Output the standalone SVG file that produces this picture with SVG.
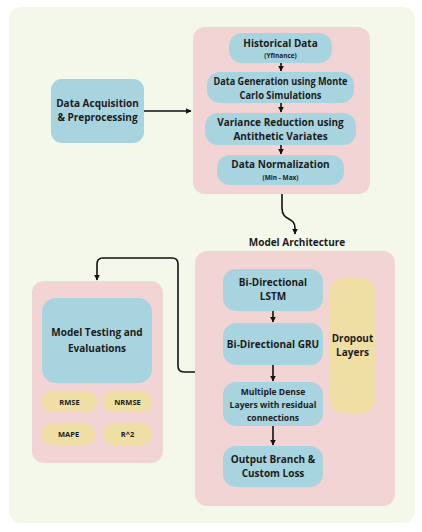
<svg xmlns="http://www.w3.org/2000/svg" width="422" height="532" viewBox="0 0 422 532">
<defs>
<style>
.bg{fill:#f3f8ea}
.pink{fill:#f2d4d4}
.blue{fill:#a8d4df}
.yel{fill:#efdfa5}
text{font-family:"Open Sans","DejaVu Sans",sans-serif;font-weight:700;fill:#1c1c1c;text-anchor:middle}
.t{font-size:10px}
.s{font-size:6.5px}
.e{font-size:7.5px}
.m{font-size:8.6px}
.c{fill:none;stroke:#111;stroke-width:1.6}
</style>
<marker id="ah" viewBox="0 0 10 10" refX="9" refY="5" markerWidth="3.6" markerHeight="3.6" orient="auto-start-reverse" markerUnits="strokeWidth">
<path d="M0,0 L10,5 L0,10 z" fill="#111"/>
</marker>
</defs>
<rect class="bg" x="9" y="7" width="406" height="516" rx="12"/>
<g id="pipeline-box"><rect class="pink" x="193" y="27" width="177" height="167" rx="12"/></g>
<g id="arch-box"><rect class="pink" x="195" y="251" width="200" height="255" rx="12"/></g>
<g id="eval-box"><rect class="pink" x="32" y="281" width="131" height="182" rx="12"/></g>
<g id="acquisition"><rect class="blue" x="51" y="79" width="93" height="64" rx="11"/>
<text class="t" x="97.5" y="107">Data Acquisition</text><text class="t" x="97.5" y="121">&amp; Preprocessing</text></g>
<g id="historical"><rect class="blue" x="229" y="33" width="103" height="30" rx="13"/>
<text class="t" x="280.5" y="47">Historical Data</text><text class="s" x="280.5" y="58">(Yfinance)</text></g>
<g id="generation"><rect class="blue" x="207" y="72" width="147" height="31" rx="13"/>
<text class="t" x="280.5" y="85" textLength="134" lengthAdjust="spacingAndGlyphs">Data Generation using Monte</text><text class="t" x="280.5" y="98.5" textLength="82" lengthAdjust="spacingAndGlyphs">Carlo Simulations</text></g>
<g id="variance"><rect class="blue" x="205" y="113" width="151" height="32" rx="13"/>
<text class="t" x="280.5" y="126">Variance Reduction using</text><text class="t" x="280.5" y="140">Antithetic Variates</text></g>
<g id="normalization"><rect class="blue" x="217" y="155" width="127" height="30" rx="13"/>
<text class="t" x="280.5" y="168">Data Normalization</text><text class="s" x="280.5" y="180">(Min - Max)</text></g>
<g id="model-architecture-label"><text class="t" x="297" y="246">Model Architecture</text></g>
<g id="lstm"><rect class="blue" x="223" y="269" width="100" height="42" rx="13"/>
<text class="t" x="273" y="286">Bi-Directional</text><text class="t" x="273" y="300">LSTM</text></g>
<g id="gru"><rect class="blue" x="223" y="323" width="100" height="42" rx="13"/>
<text class="t" x="273" y="348">Bi-Directional GRU</text></g>
<g id="dense"><rect class="blue" x="223" y="382" width="100" height="44" rx="13"/>
<text class="m" x="273" y="395">Multiple Dense</text><text class="m" x="273" y="408">Layers with residual</text><text class="m" x="273" y="421">connections</text></g>
<g id="output"><rect class="blue" x="223" y="446" width="100" height="41" rx="13"/>
<text class="t" x="273" y="463">Output Branch &amp;</text><text class="t" x="273" y="477">Custom Loss</text></g>
<g id="dropout"><rect class="yel" x="330" y="278" width="45" height="135" rx="13"/>
<text class="t" x="352.5" y="342">Dropout</text><text class="t" x="352.5" y="356">Layers</text></g>
<g id="testing"><rect class="blue" x="42" y="298" width="110" height="85" rx="14"/>
<text class="t" x="97" y="336">Model Testing and</text><text class="t" x="97" y="352">Evaluations</text></g>
<g id="rmse"><rect class="yel" x="42" y="391" width="55" height="21" rx="10"/><text class="e" x="69.5" y="404.5">RMSE</text></g>
<g id="nrmse"><rect class="yel" x="103" y="391" width="49" height="21" rx="10"/><text class="e" x="127.5" y="404.5">NRMSE</text></g>
<g id="mape"><rect class="yel" x="42" y="423" width="53" height="22" rx="10"/><text class="e" x="68.5" y="437">MAPE</text></g>
<g id="r2"><rect class="yel" x="103" y="423" width="49" height="22" rx="10"/><text class="e" x="127.5" y="437">R^2</text></g>
<g id="connectors">
<path class="c" d="M144,111 H191" marker-end="url(#ah)"/>
<path class="c" d="M281,63 V71" marker-end="url(#ah)"/>
<path class="c" d="M281,103 V112" marker-end="url(#ah)"/>
<path class="c" d="M281,145 V154" marker-end="url(#ah)"/>
<path class="c" d="M282,194 V208 C282,222 295,216 295,228 V234" marker-end="url(#ah)"/>
<path class="c" d="M273,311 V322" marker-end="url(#ah)"/>
<path class="c" d="M273,365 V381" marker-end="url(#ah)"/>
<path class="c" d="M273,426 V445" marker-end="url(#ah)"/>
<path class="c" d="M195,372 H184 Q178,372 178,366 V264 Q178,258 172,258 H103 Q97,258 97,264 V280" marker-end="url(#ah)"/>
</g>
</svg>
